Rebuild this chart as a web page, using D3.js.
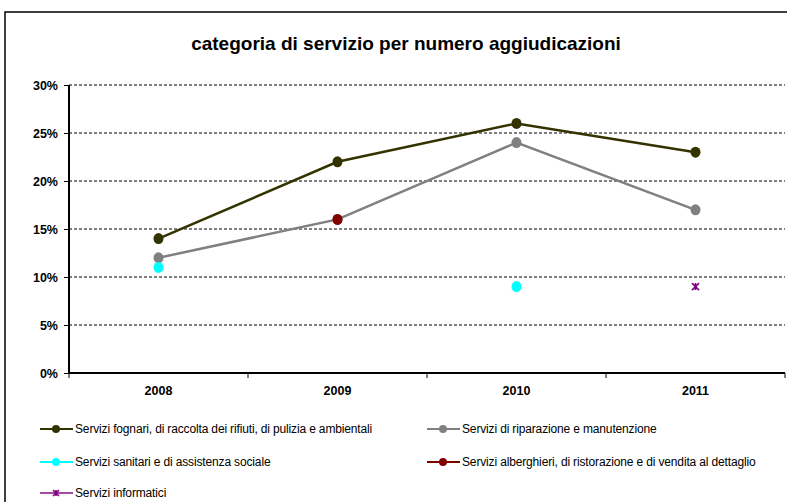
<!DOCTYPE html>
<html><head><meta charset="utf-8">
<script src="https://cdn.jsdelivr.net/npm/d3@7"></script>
<style>body{margin:0;background:#fff}svg{display:block}text{font-family:"Liberation Sans",Arial,sans-serif}</style>
</head><body><svg width="787" height="502"></svg>
<script>
const years = ["2008","2009","2010","2011"];
const yTicks = [0,0.05,0.10,0.15,0.20,0.25,0.30];
const fognari = [0.14,0.22,0.26,0.23];
const riparazione = [0.12,0.16,0.24,0.17];
const sanitari = [0.11,null,0.09,null];
const alberghieri = [null,0.16,null,null];
const informatici = [null,null,null,0.09];
const seriesNames = [
 "Servizi fognari, di raccolta dei rifiuti, di pulizia e ambientali",
 "Servizi di riparazione e manutenzione",
 "Servizi sanitari e di assistenza sociale",
 "Servizi alberghieri, di ristorazione e di vendita al dettaglio",
 "Servizi informatici"];
const seriesColors = ["#333300","#808080","#00ffff","#800000","#800080"];
const seriesMarkers = ["circle","circle","circle","circle","x"];
const series = [fognari,riparazione,sanitari,alberghieri,informatici].map((v,i)=>({name:seriesNames[i],values:v,color:seriesColors[i],marker:seriesMarkers[i]}));

const svg = d3.select("svg");
// outer frame
svg.append("rect").attr("x",6).attr("y",13).attr("width",800).attr("height",520)
  .attr("fill","none").attr("stroke","#bbb").attr("stroke-width",1.5);
svg.append("rect").attr("x",5).attr("y",12).attr("width",800).attr("height",520)
  .attr("fill","#fff").attr("stroke","#000").attr("stroke-width",1.5);

svg.append("text").attr("x",406).attr("y",50).attr("text-anchor","middle")
  .style("font-size","19px").style("font-weight","bold").text("categoria di servizio per numero aggiudicazioni");

const L=69,R=785,T=85,B=373;
const x = d3.scaleBand().domain(years).range([L,R]);
const y = d3.scaleLinear().domain([0,0.30]).range([B,T]);

// gridlines
svg.append("g").selectAll("line").data(yTicks.filter(d=>d>0)).join("line")
  .attr("x1",L).attr("x2",R).attr("y1",d=>y(d)).attr("y2",d=>y(d))
  .attr("stroke","#000").attr("stroke-width",1).attr("stroke-dasharray","3,2");

// y axis
const yAxis = d3.axisLeft(y).tickValues(yTicks).tickFormat(d3.format(".0%")).tickSize(5).tickPadding(6);
const gy = svg.append("g").attr("transform",`translate(${L},0)`).call(yAxis);
gy.select(".domain").attr("stroke","#000").attr("stroke-width",2).attr("d",`M0,${T}V${B}`);
gy.selectAll(".tick line").attr("stroke","#000");
gy.selectAll("text").style("font-size","12.5px").style("font-weight","bold").attr("fill","#000").attr("font-family",null);

// x axis
const xAxis = d3.axisBottom(x).tickSize(0).tickPadding(13);
const gx = svg.append("g").attr("transform",`translate(0,${B})`).call(xAxis);
gx.select(".domain").attr("stroke","#000").attr("stroke-width",2).attr("d",`M${L},0H${R}`);
gx.selectAll("text").style("font-size","12.5px").style("font-weight","bold").attr("fill","#000").attr("font-family",null);
const bounds = years.map(d=>x(d)).concat([x(years[years.length-1])+x.bandwidth()]);
gx.selectAll(".bt").data(bounds).join("line").attr("class","bt")
  .attr("x1",d=>d).attr("x2",d=>d).attr("y1",0).attr("y2",5).attr("stroke","#000");

const cx = d=>x(d)+x.bandwidth()/2;
const line = d3.line().defined(d=>d.v!=null).x(d=>cx(d.year)).y(d=>y(d.v));

function drawMarker(g, type, color, px, py, small){
  if(type==="circle"){
    g.append("ellipse").attr("cx",px).attr("cy",py).attr("rx",small?4:5).attr("ry",small?4:5.5).attr("fill",color);
  } else {
    const s = small?3:3.5;
    g.append("path").attr("d",`M${px-s},${py-s}L${px+s},${py+s}M${px-s},${py+s}L${px+s},${py-s}M${px},${py-s}V${py+s}`)
      .attr("stroke",color).attr("stroke-width",1.6).attr("fill","none");
  }
}

const plot = svg.append("g");
series.forEach(s=>{
  const pts = years.map((yr,i)=>({year:yr,v:s.values[i]}));
  const defined = pts.filter(p=>p.v!=null);
  plot.append("path").datum(pts).attr("d",line).attr("fill","none")
    .attr("stroke",s.color).attr("stroke-width",2.5);
  defined.forEach(p=>drawMarker(plot,s.marker,s.color,cx(p.year),y(p.v),false));
});

// legend
const legendPos = [[40,429],[427,429],[40,462],[427,462],[40,493]];
const lg = svg.append("g");
series.forEach((s,i)=>{
  const [lx,ly]=legendPos[i];
  lg.append("line").attr("x1",lx).attr("x2",lx+33).attr("y1",ly).attr("y2",ly)
    .attr("stroke",s.color).attr("stroke-width",2).attr("opacity",s.marker==="x"?0.7:1);
  drawMarker(lg,s.marker,s.color,lx+16,ly,true);
  lg.append("text").attr("x",lx+35).attr("y",ly+4).style("font-size","12px")
    .style("letter-spacing","-0.15px").attr("fill","#000").text(s.name);
});
</script></body></html>
